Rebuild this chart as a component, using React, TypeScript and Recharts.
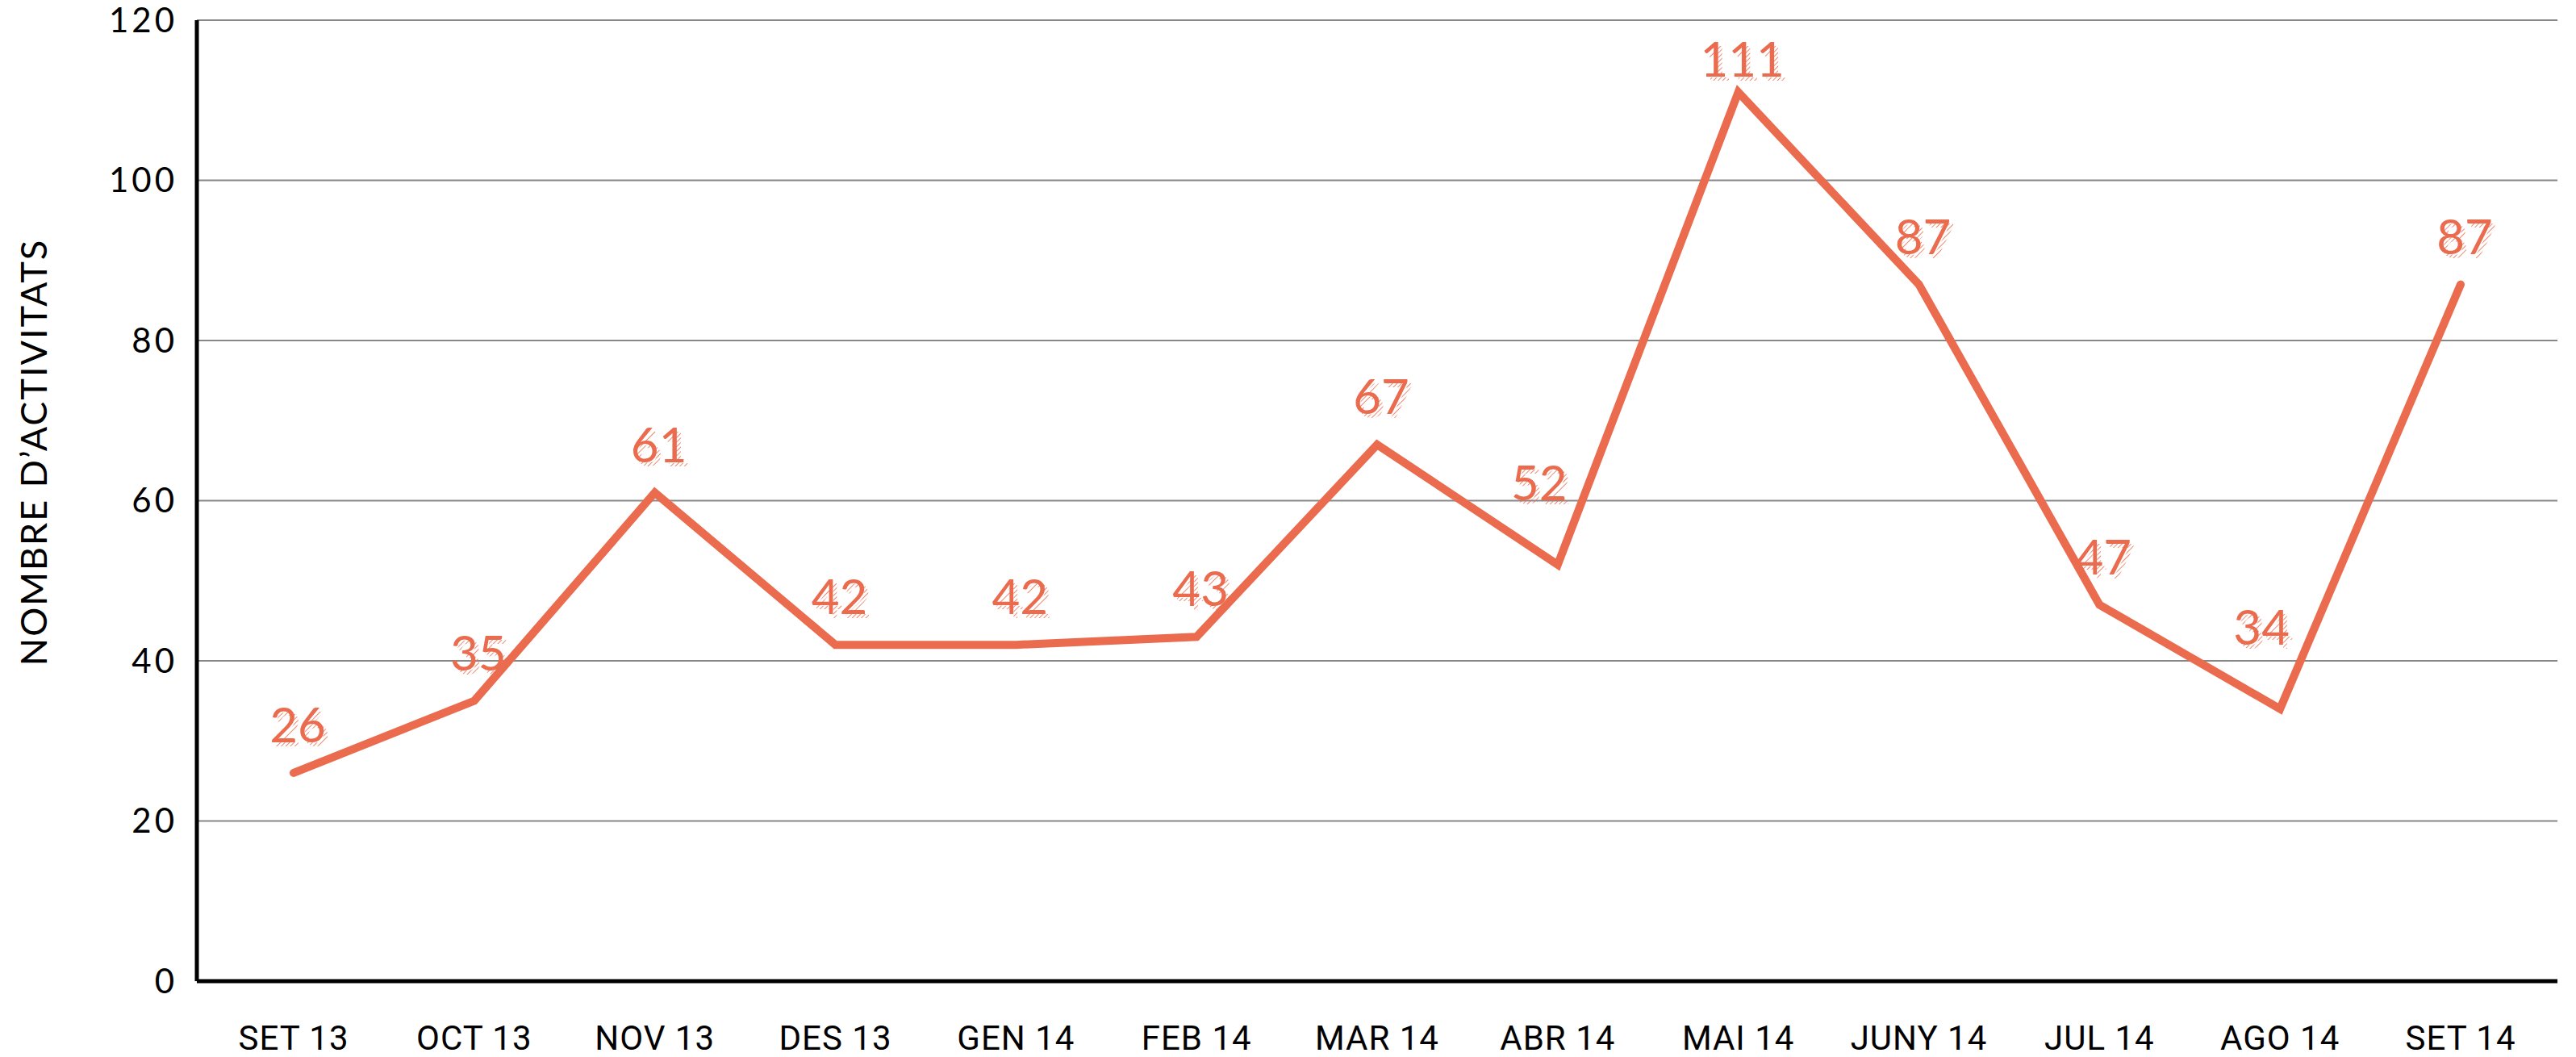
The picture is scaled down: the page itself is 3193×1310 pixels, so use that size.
import React from "react";
import { LineChart, Line, XAxis, YAxis, CartesianGrid, LabelList, Label } from "recharts";

const months = ["SET 13", "OCT 13", "NOV 13", "DES 13", "GEN 14", "FEB 14", "MAR 14", "ABR 14", "MAI 14", "JUNY 14", "JUL 14", "AGO 14", "SET 14"];
const activitats = [26, 35, 61, 42, 42, 43, 67, 52, 111, 87, 47, 34, 87];
const yTicks = [0, 20, 40, 60, 80, 100, 120];

const data = months.map((m, i) => ({ month: m, value: activitats[i] }));

const ORANGE = "#EA6B4E";

const isValley = (i: number) =>
  i > 0 && i < activitats.length - 1 && activitats[i - 1] > activitats[i] && activitats[i + 1] > activitats[i];

const ValueLabel = (props: any) => {
  const { x, y, value, index } = props;
  const valley = isValley(index);
  const cx = x + 5 + (valley ? -28 : 0);
  const centerY = Math.max(y - 59 - (valley ? 42 : 0), 74);
  const base = centerY + 21;
  return (
    <g>
      {index === 0 && (
        <defs>
          <pattern id="hatch" patternUnits="userSpaceOnUse" width="4" height="4" patternTransform="rotate(45)">
            <line x1="0" y1="0" x2="0" y2="4" stroke={ORANGE} strokeWidth="1.6" />
          </pattern>
        </defs>
      )}
      <text x={cx + 5} y={base + 5} textAnchor="middle" fontFamily="Lato, sans-serif" fontSize={60} fill="url(#hatch)">
        {value}
      </text>
      <text x={cx} y={base} textAnchor="middle" fontFamily="Lato, sans-serif" fontSize={60} fill={ORANGE}>
        {value}
      </text>
    </g>
  );
};

export default function App() {
  return (
    <div style={{ position: "fixed", top: 0, left: 0, width: 3193, height: 1310, background: "#fff" }}>
      <LineChart width={3193} height={1310} data={data} margin={{ top: 25, right: 23, left: 44, bottom: 0 }}>
        <CartesianGrid vertical={false} stroke="#888" strokeWidth={2} />
        <XAxis
          dataKey="month"
          padding={{ left: 120, right: 120 }}
          axisLine={{ stroke: "#000", strokeWidth: 5 }}
          tickLine={false}
          tickSize={0}
          tickMargin={55}
          height={94}
          interval={0}
          tick={{ fill: "#000", fontSize: 42, fontFamily: "Roboto, sans-serif", letterSpacing: 1 }}
        />
        <YAxis
          domain={[0, 120]}
          ticks={yTicks}
          width={200}
          axisLine={{ stroke: "#000", strokeWidth: 5 }}
          tickLine={false}
          tickSize={0}
          tickMargin={24}
          tick={{ fill: "#000", fontSize: 42, fontFamily: "Lato, sans-serif", letterSpacing: 4 }}
        >
          <Label
            content={(p: any) => {
              const vb = p.viewBox;
              const lx = vb.x - 3;
              const ly = vb.y + vb.height / 2 - 60;
              return (
                <text
                  x={lx}
                  y={ly}
                  transform={`rotate(-90 ${lx} ${ly})`}
                  textAnchor="middle"
                  dominantBaseline="central"
                  fontFamily="Lato, sans-serif"
                  fontSize={45}
                  letterSpacing={2}
                  fill="#000"
                >
                  NOMBRE D’ACTIVITATS
                </text>
              );
            }}
          />
        </YAxis>
        <Line
          type="linear"
          dataKey="value"
          stroke={ORANGE}
          strokeWidth={10}
          strokeLinecap="round"
          dot={false}
          activeDot={false}
          isAnimationActive={false}
        >
          <LabelList dataKey="value" content={ValueLabel} />
        </Line>
      </LineChart>
    </div>
  );
}
